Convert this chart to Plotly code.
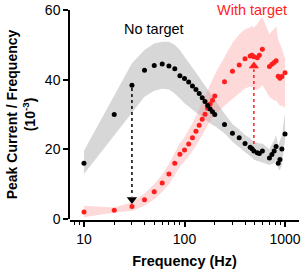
import plotly.graph_objects as go

freq = [10, 20, 30, 40, 50, 60, 70, 80, 90, 100, 110, 120, 130, 140, 150, 160, 170,
        180, 190, 200, 250, 300, 350, 400, 450, 470, 490, 530, 555, 595,
        700, 740, 780, 815, 855, 890, 930, 1000]

no_target = [16.0, 30.0, 38.4, 42.7, 44.1, 44.5, 43.9, 43.1, 41.1, 40.3, 39.3, 38.2, 37.2,
             36.0, 34.8, 33.7, 32.6, 31.6, 30.8, 30.0, 27.1, 24.6, 23.3, 21.7, 20.6, 20.2,
             19.5, 19.0, 18.8, 19.5, 17.5, 18.5, 19.5, 20.8, 16.0, 17.1, 20.1, 24.4]
no_target_lo = [12.9, 24.0, 30.8, 35.1, 36.8, 37.4, 37.2, 36.0, 34.6, 33.2, 32.3, 31.3, 30.6,
                30.0, 29.4, 28.6, 28.0, 27.4, 27.0, 26.7, 24.6, 22.2, 20.7, 19.3, 18.2, 17.6,
                17.0, 16.6, 16.4, 16.2, 15.5, 15.8, 16.0, 16.9, 14.5, 14.0, 15.5, 22.7]
no_target_hi = [19.6, 35.5, 44.7, 48.5, 50.4, 50.9, 50.9, 50.0, 48.5, 46.6, 45.0, 43.7, 42.2,
                40.8, 39.4, 38.2, 37.0, 36.0, 35.0, 34.2, 30.3, 27.3, 25.7, 24.1, 23.2, 22.8,
                22.2, 21.9, 21.7, 21.7, 20.0, 21.5, 22.5, 24.1, 21.0, 22.5, 24.0, 30.3]

with_target = [2.0, 2.5, 3.6, 5.5, 7.8, 10.3, 12.9, 16.0, 18.6, 19.8, 21.5, 23.3, 25.2,
               26.9, 28.6, 30.1, 31.8, 33.0, 34.1, 35.3, 39.4, 42.4, 44.2, 46.0, 46.8, 47.0,
               46.6, 46.3, 47.0, 48.7, 43.8, 44.4, 44.9, 45.4, 41.0, 40.4, 40.9, 42.0]
with_target_lo = [0.5, 1.9, 2.3, 3.8, 5.6, 7.8, 10.0, 12.8, 15.0, 16.5, 18.0, 19.5, 21.0,
                  22.5, 24.0, 25.5, 27.0, 28.2, 29.2, 30.0, 32.5, 34.5, 36.0, 37.5, 38.0, 38.0,
                  37.5, 37.0, 37.5, 38.5, 35.0, 34.5, 34.0, 34.0, 33.0, 32.5, 32.5, 32.0]
with_target_hi = [3.8, 3.3, 4.8, 7.3, 10.0, 12.8, 15.8, 19.0, 21.8, 23.5, 25.5, 27.5, 29.5,
                  31.5, 33.5, 35.2, 37.0, 38.5, 40.0, 41.5, 46.5, 50.5, 53.0, 54.5, 55.0, 55.5,
                  55.0, 56.0, 57.0, 58.0, 53.0, 54.0, 54.5, 55.5, 51.5, 50.5, 49.0, 46.0]

# arrows: (frequency, start value, end value)
arrow_black = dict(f=30, y0=37.6, y1=6.5, head=5.6)
arrow_red = dict(f=490, y0=21.5, y1=43.0, head=43.9)

FONT = "Liberation Sans, Arial, sans-serif"
RED = "#ff1e1e"

fig = go.Figure()

# bands
fig.add_trace(go.Scatter(x=freq, y=no_target_lo, mode="lines", line=dict(width=0),
                         hoverinfo="skip", showlegend=False))
fig.add_trace(go.Scatter(x=freq, y=no_target_hi, mode="lines", line=dict(width=0),
                         fill="tonexty", fillcolor="rgba(150,150,150,0.38)",
                         hoverinfo="skip", showlegend=False))
fig.add_trace(go.Scatter(x=freq, y=with_target_lo, mode="lines", line=dict(width=0),
                         hoverinfo="skip", showlegend=False))
fig.add_trace(go.Scatter(x=freq, y=with_target_hi, mode="lines", line=dict(width=0),
                         fill="tonexty", fillcolor="rgba(250,140,140,0.33)",
                         hoverinfo="skip", showlegend=False))

# dotted arrows
fig.add_trace(go.Scatter(x=[arrow_black["f"]] * 2, y=[arrow_black["y0"], arrow_black["y1"]],
                         mode="lines", line=dict(color="black", width=1.5, dash="dot"),
                         showlegend=False, hoverinfo="skip"))
fig.add_trace(go.Scatter(x=[arrow_black["f"]], y=[arrow_black["head"]], mode="markers",
                         marker=dict(symbol="triangle-down", size=9, color="black"),
                         showlegend=False, hoverinfo="skip", cliponaxis=False))
fig.add_trace(go.Scatter(x=[arrow_red["f"]] * 2, y=[arrow_red["y0"], arrow_red["y1"]],
                         mode="lines", line=dict(color=RED, width=1.5, dash="dot"),
                         showlegend=False, hoverinfo="skip"))
fig.add_trace(go.Scatter(x=[arrow_red["f"]], y=[arrow_red["head"]], mode="markers",
                         marker=dict(symbol="triangle-up", size=9, color=RED),
                         showlegend=False, hoverinfo="skip", cliponaxis=False))

# dots
fig.add_trace(go.Scatter(x=freq, y=with_target, mode="markers", name="With target",
                         marker=dict(size=5, color=RED), cliponaxis=False, showlegend=False))
fig.add_trace(go.Scatter(x=freq, y=no_target, mode="markers", name="No target",
                         marker=dict(size=5, color="black"), cliponaxis=False, showlegend=False))

fig.update_layout(
    width=303, height=271,
    margin=dict(l=70, r=4, t=10, b=50),
    paper_bgcolor="white", plot_bgcolor="white",
    font=dict(family=FONT, color="black", size=14),
    showlegend=False,
    xaxis=dict(
        type="log", range=[0.861, 3.139], anchor="free", position=0,
        automargin=False,
        showline=True, linecolor="black", linewidth=1.5,
        ticks="outside", ticklen=5, tickwidth=1.5, tickcolor="black",
        tickvals=[10, 100, 1000], ticktext=["10", "100", "1000"],
        tickfont=dict(size=14, family=FONT),
        minor=dict(ticks="outside", ticklen=3, tickwidth=1, tickcolor="black",
                   dtick="D1", showgrid=False),
        showgrid=False, zeroline=False,
        title=dict(text="Frequency (Hz)", font=dict(size=14.5, family=FONT, weight="bold"),
                   standoff=9),
    ),
    yaxis=dict(
        range=[0, 60], domain=[0.0095, 1], automargin=False,
        showline=True, linecolor="black", linewidth=1.5,
        ticks="outside", ticklen=5, tickwidth=1.5, tickcolor="black",
        tickvals=[0, 20, 40, 60], tickfont=dict(size=14, family=FONT),
        showgrid=False, zeroline=False,
        title=dict(text="Peak Current / Frequency<br>(10<sup>-3</sup>)",
                   font=dict(size=14, family=FONT, weight="bold"), standoff=6),
    ),
    annotations=[
        dict(text="No target", x=1.6965, y=54.5, xref="x", yref="y", showarrow=False,
             font=dict(size=14.5, family=FONT, color="black")),
        dict(text="With target", x=2.672, y=1.0, xref="x", yref="paper", yanchor="middle",
             yshift=0, showarrow=False, font=dict(size=14.5, family=FONT, color=RED)),
    ],
)

fig.write_html("out.html", config={"displayModeBar": False},
               post_script="document.body.style.margin='0';document.body.style.overflow='hidden';")
